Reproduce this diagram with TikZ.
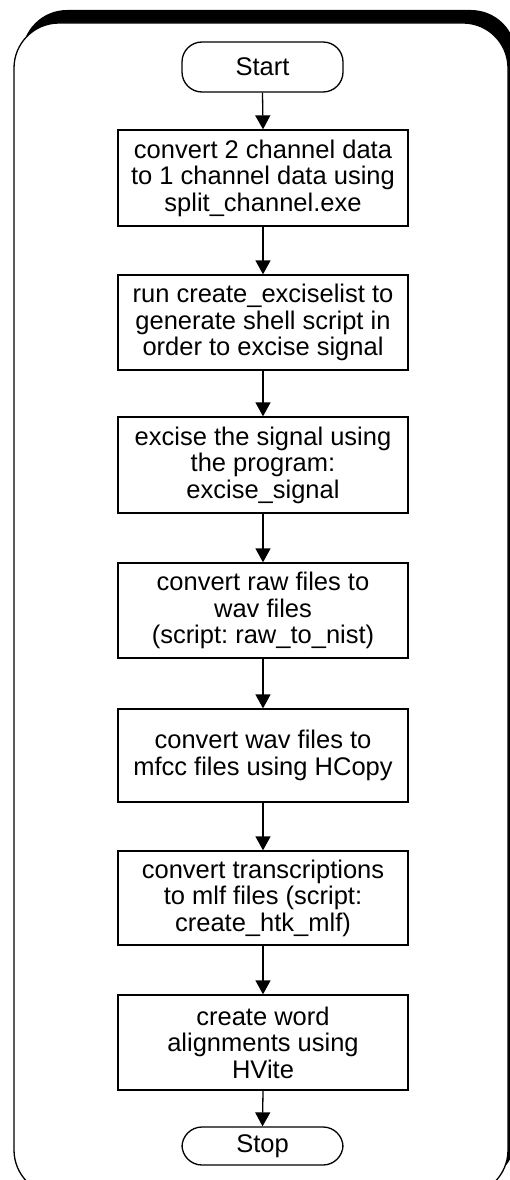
\documentclass[tikz,border=0pt]{standalone}
\usepackage{fontspec}
\setmainfont{Liberation Sans}
\usetikzlibrary{arrows.meta}
\frenchspacing
\tikzset{
  stepbox/.style={draw=black, line width=1.3pt, fill=white, minimum width=290pt, inner sep=0pt, align=center, font=\fontsize{25.5}{26.5}\selectfont\frenchspacing},
  term/.style={draw=black, line width=1.3pt, fill=white, rounded corners=20pt, minimum width=161pt, inner sep=0pt, font=\fontsize{25.5}{26.5}\selectfont},
  flow/.style={line width=1.3pt, -{Triangle[length=14pt,width=15pt]}}
}
\begin{document}
\begin{tikzpicture}[x=1pt,y=-1pt]
\useasboundingbox (0,0) rectangle (510,1180);
\clip (0,0) rectangle (510,1180);
\fill[black, rounded corners=45pt] (22,10) rectangle (516,1182);
\draw[fill=white, line width=1.3pt, rounded corners=45pt] (14,23) rectangle (508,1195);

\node[term, minimum height=50pt] (start) at (262.5,67) {Start};
\node[stepbox, minimum height=96pt] (b1) at (263,178) {convert 2 channel data\\to 1 channel data using\\split\_channel.exe};
\node[stepbox, minimum height=95pt] (b2) at (263,322.5) {run create\_exciselist to\\generate shell script in\\order to excise signal};
\node[stepbox, minimum height=96pt] (b3) at (263,465) {excise the signal using\\the program:\\excise\_signal};
\node[stepbox, minimum height=95pt] (b4) at (263,610.5) {convert raw files to\\wav files\\(script: raw\_to\_nist)};
\node[stepbox, minimum height=93pt] (b5) at (263,755.5) {convert wav files to\\mfcc files using HCopy};
\node[stepbox, minimum height=94pt] (b6) at (263,898) {convert transcriptions\\to mlf files (script:\\create\_htk\_mlf)};
\node[stepbox, minimum height=95pt] (b7) at (263,1042.5) {create word\\alignments using\\HVite};
\node[term, minimum height=38pt] (stop) at (262.5,1146) {Stop};

\draw[flow] (start.south) -- (b1.north);
\draw[flow] (b1.south) -- (b2.north);
\draw[flow] (b2.south) -- (b3.north);
\draw[flow] (b3.south) -- (b4.north);
\draw[flow] (b4.south) -- (b5.north);
\draw[flow] (b5.south) -- (b6.north);
\draw[flow] (b6.south) -- (b7.north);
\draw[flow] (b7.south) -- (stop.north);
\end{tikzpicture}
\end{document}
